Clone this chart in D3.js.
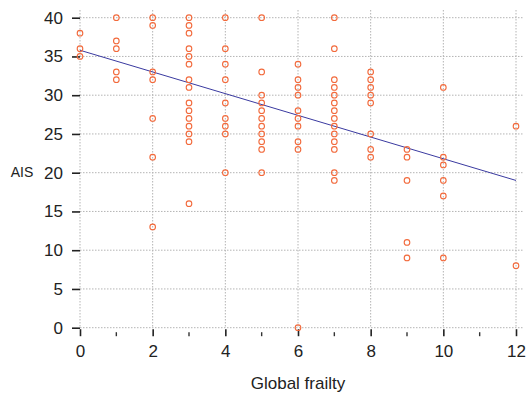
<!DOCTYPE html>
<html>
<head>
<script src="https://d3js.org/d3.v7.min.js"></script>
<style>
  body { margin: 0; background: #fff; }
  text { font-family: "Liberation Sans", Arial, sans-serif; fill: #222; }
</style>
</head>
<body>
<svg id="chart" width="527" height="393"></svg>
<script>
// one entry per patient: global frailty score and AIS
const frailty = [
  0, 0, 0,
  1, 1, 1, 1, 1,
  2, 2, 2, 2, 2, 2, 2,
  3, 3, 3, 3, 3, 3, 3, 3, 3, 3, 3, 3, 3, 3, 3,
  4, 4, 4, 4, 4, 4, 4, 4, 4,
  5, 5, 5, 5, 5, 5, 5, 5, 5, 5, 5,
  6, 6, 6, 6, 6, 6, 6, 6, 6, 6,
  7, 7, 7, 7, 7, 7, 7, 7, 7, 7, 7, 7, 7, 7,
  8, 8, 8, 8, 8, 8, 8, 8,
  9, 9, 9, 9, 9,
  10, 10, 10, 10, 10, 10,
  12, 12
];
const ais = [
  38, 36, 35,
  40, 37, 36, 33, 32,
  40, 39, 33, 32, 27, 22, 13,
  40, 39, 38, 36, 35, 34, 32, 31, 29, 28, 27, 26, 25, 24, 16,
  40, 36, 34, 32, 29, 27, 26, 25, 20,
  40, 33, 30, 29, 28, 27, 26, 25, 24, 23, 20,
  34, 32, 31, 30, 28, 27, 26, 24, 23, 0,
  40, 36, 32, 31, 30, 29, 28, 27, 26, 25, 24, 23, 20, 19,
  33, 32, 31, 30, 29, 25, 23, 22,
  23, 22, 19, 11, 9,
  31, 22, 21, 19, 17, 9,
  26, 8
];
const xTicks = [0, 2, 4, 6, 8, 10, 12];
const xMinorTicks = [1, 3, 5, 7, 9, 11];
const yTicks = [0, 5, 10, 15, 20, 25, 30, 35, 40];
// fitted line
const fitIntercept = 35.8;
const fitSlope = -1.4;

const svg = d3.select("#chart");
const x = d3.scaleLinear().domain([0, 12]).range([80, 516]);
const y = d3.scaleLinear().domain([0, 40]).range([327.7, 17.7]);
const gridRight = 523, gridTop = 10;

// grid
const grid = svg.append("g").attr("stroke", "#b4b4b4").attr("stroke-width", 1)
  .attr("stroke-dasharray", "1.5,1.5");
grid.selectAll("line.h").data(yTicks).join("line").attr("class", "h")
  .attr("x1", x(0)).attr("x2", gridRight)
  .attr("y1", d => y(d)).attr("y2", d => y(d));
grid.selectAll("line.v").data(xTicks).join("line").attr("class", "v")
  .attr("y1", gridTop).attr("y2", y(0))
  .attr("x1", d => x(d)).attr("x2", d => x(d));

// y axis
const yAxis = svg.append("g").attr("transform", "translate(80,0)")
  .call(d3.axisLeft(y).tickValues(yTicks).tickSize(8).tickPadding(9));
yAxis.select(".domain").remove();
yAxis.selectAll("line").attr("stroke", "#222").attr("stroke-width", 1.6);
yAxis.selectAll("text").style("font-size", "17px")
  .style("font-family", "'Liberation Sans', Arial, sans-serif").attr("fill", "#222");

// x axis
const xAxis = svg.append("g").attr("transform", "translate(0," + (y(0) + 1.5) + ")")
  .call(d3.axisBottom(x).tickValues(xTicks).tickSize(7).tickPadding(9));
xAxis.select(".domain").remove();
xAxis.selectAll("line").attr("stroke", "#222").attr("stroke-width", 1.6);
xAxis.selectAll("text").style("font-size", "17px")
  .style("font-family", "'Liberation Sans', Arial, sans-serif").attr("fill", "#222");
svg.append("g").selectAll("line").data(xMinorTicks).join("line")
  .attr("x1", d => x(d)).attr("x2", d => x(d))
  .attr("y1", y(0) + 4.5).attr("y2", y(0) + 8.5)
  .attr("stroke", "#333").attr("stroke-width", 1.4);

// labels
svg.append("text").attr("x", 298).attr("y", 389).attr("text-anchor", "middle")
  .style("font-size", "17px").text("Global frailty");
svg.append("text").attr("x", 22).attr("y", 177).attr("text-anchor", "middle")
  .style("font-size", "14px").text("AIS");

// fit line
svg.append("line")
  .attr("x1", x(0)).attr("y1", y(fitIntercept))
  .attr("x2", x(12)).attr("y2", y(fitIntercept + fitSlope * 12))
  .attr("stroke", "#3a3aa0").attr("stroke-width", 1);

// points
svg.append("g").selectAll("circle").data(ais).join("circle")
  .attr("cx", (d, i) => x(frailty[i]))
  .attr("cy", d => y(d))
  .attr("r", 2.8)
  .attr("fill", "none")
  .attr("stroke", "#f26a3c")
  .attr("stroke-width", 1.1);
</script>
</body>
</html>
